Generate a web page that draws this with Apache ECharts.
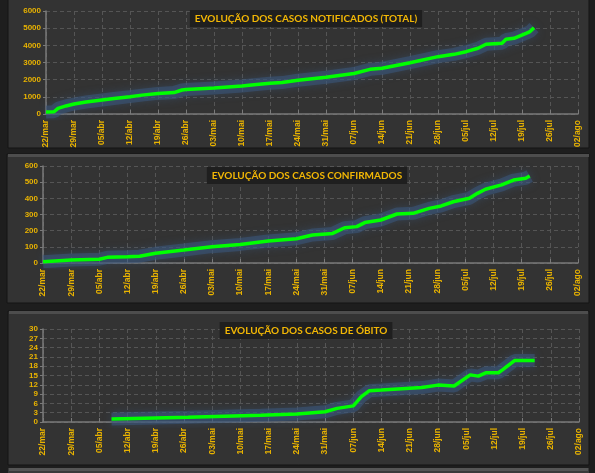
<!DOCTYPE html>
<html>
<head>
<meta charset="utf-8">
<script src="https://cdn.jsdelivr.net/npm/echarts@6/dist/echarts.min.js"></script>
<style>
  html, body { margin: 0; padding: 0; background: #1e1e1e; }
  #chart { width: 595px; height: 473px; }
</style>
</head>
<body>
<div id="chart"></div>
<script>
// casos notificados (total)
const datesTotal = ['22/mar', '24/mar', '25/mar', '27/mar', '29/mar', '01/abr', '05/abr', '08/abr', '12/abr', '15/abr',
  '19/abr', '23/abr', '25/abr', '26/abr', '03/mai', '10/mai', '13/mai', '17/mai', '20/mai', '24/mai',
  '31/mai', '07/jun', '11/jun', '14/jun', '21/jun', '28/jun', '02/jul', '05/jul', '08/jul', '10/jul',
  '14/jul', '15/jul', '17/jul', '20/jul', '21/jul', '22/jul']
const valuesTotal = [120, 130, 330, 470, 580, 700, 815, 900, 1010, 1100,
  1200, 1250, 1400, 1430, 1520, 1630, 1700, 1790, 1830, 1970,
  2140, 2360, 2600, 2660, 2990, 3340, 3475, 3630, 3830, 4060,
  4120, 4350, 4410, 4700, 4800, 5030]

// casos confirmados
const datesConf = ['22/mar', '29/mar', '05/abr', '07/abr', '12/abr', '15/abr', '19/abr', '26/abr', '03/mai', '10/mai',
  '17/mai', '24/mai', '28/mai', '02/jun', '05/jun', '08/jun', '10/jun', '14/jun', '18/jun', '22/jun',
  '26/jun', '29/jun', '02/jul', '06/jul', '08/jul', '10/jul', '14/jul', '17/jul', '20/jul', '21/jul']
const valuesConf = [8, 18, 23, 35, 39, 42, 60, 80, 101, 115,
  136, 150, 173, 183, 218, 225, 250, 266, 303, 307,
  338, 353, 379, 400, 431, 456, 483, 513, 524, 538]

// casos de obito
const datesObito = ['08/abr', '27/abr', '15/mai', '24/mai', '31/mai', '03/jun', '07/jun', '09/jun', '11/jun', '14/jun',
  '24/jun', '28/jun', '02/jul', '03/jul', '06/jul', '08/jul', '10/jul', '13/jul', '14/jul', '17/jul', '22/jul']
const valuesObito = [1, 1.5, 2.2, 2.6, 3.3, 4.4, 5.2, 8.2, 10.1, 10.3,
  11.1, 11.9, 11.6, 12.5, 15.2, 14.8, 15.9, 15.9, 16.8, 19.8, 19.8]

const titles = ['EVOLUÇÃO DOS CASOS NOTIFICADOS (TOTAL)', 'EVOLUÇÃO DOS CASOS CONFIRMADOS', 'EVOLUÇÃO DOS CASOS DE ÓBITO']
const yMax = [6000, 600, 30]
const yStep = [1000, 100, 3]

const months = ['jan', 'fev', 'mar', 'abr', 'mai', 'jun', 'jul', 'ago', 'set', 'out', 'nov', 'dez']
const day0 = Date.UTC(2020, 2, 22)
const DAY = 86400000

// 'dd/mmm' -> dias desde 22/mar
function toDay(s) {
  let p = s.split('/')
  return Math.round((Date.UTC(2020, months.indexOf(p[1]), +p[0]) - day0) / DAY)
}
function toLabel(d) {
  let dt = new Date(day0 + d * DAY)
  let dd = String(dt.getUTCDate()).padStart(2, '0')
  return dd + '/' + months[dt.getUTCMonth()]
}

const yellow = '#e9b300'
const grids = [
  { left: 46, right: 17, top: 11, height: 103 },
  { left: 43, right: 17, top: 166, height: 97 },
  { left: 43, right: 16, top: 329, height: 93 }
]
const titlePos = [{ x: 301, y: 10 }, { x: 302, y: 167 }, { x: 301, y: 322 }]
const seriesData = [
  datesTotal.map((d, i) => [toDay(d), valuesTotal[i]]),
  datesConf.map((d, i) => [toDay(d), valuesConf[i]]),
  datesObito.map((d, i) => [toDay(d), valuesObito[i]])
]

// halo azulado por baixo + linha verde por cima
let series = []
seriesData.forEach((d, i) => {
  series.push({
    type: 'line', xAxisIndex: i, yAxisIndex: i, data: d, symbol: 'none', silent: true, z: 1,
    lineStyle: { color: 'rgba(58,88,125,0.55)', width: 13, shadowColor: 'rgba(58,88,125,0.7)', shadowBlur: 8 }
  })
  series.push({
    type: 'line', xAxisIndex: i, yAxisIndex: i, data: d, symbol: 'none', z: 3,
    lineStyle: { color: '#00ff00', width: 3.5 }
  })
})

let chart = echarts.init(document.getElementById('chart'))
let option = {
  backgroundColor: '#1e1e1e',
  animation: false,
  graphic: [
    { type: 'rect', z: -100, shape: { x: 8, y: -4, width: 581, height: 152 }, style: { fill: '#333333', stroke: '#141414', lineWidth: 1 } },
    { type: 'rect', z: -100, shape: { x: 7, y: 154, width: 582, height: 149 }, style: { fill: '#333333', stroke: '#141414', lineWidth: 1 } },
    { type: 'rect', z: -99, shape: { x: 8, y: 154, width: 581, height: 3 }, style: { fill: '#4d4d4d' } },
    { type: 'rect', z: -100, shape: { x: 8, y: 311, width: 581, height: 154 }, style: { fill: '#333333', stroke: '#141414', lineWidth: 1 } },
    { type: 'rect', z: -99, shape: { x: 9, y: 311, width: 579, height: 3 }, style: { fill: '#4d4d4d' } },
    { type: 'rect', z: -100, shape: { x: 8, y: 468, width: 581, height: 10 }, style: { fill: '#3a3a3a' } },
    { type: 'rect', z: -99, shape: { x: 9, y: 468, width: 579, height: 3 }, style: { fill: '#555555' } }
  ],
  title: titles.map((t, i) => ({
    text: t,
    left: titlePos[i].x,
    top: titlePos[i].y,
    textAlign: 'center',
    backgroundColor: '#1f1f1f',
    padding: [4, 5, 3, 5],
    textStyle: { color: '#f2b705', fontFamily: 'Lato', fontWeight: 'bold', fontSize: 10 }
  })),
  grid: grids,
  xAxis: grids.map((g, i) => ({
    type: 'value',
    gridIndex: i,
    min: 0,
    max: 133,
    interval: 7,
    axisLine: { lineStyle: { color: '#7a7a7a', width: 1.5 } },
    axisTick: { inside: true, length: 4, lineStyle: { color: '#7a7a7a' } },
    splitLine: { show: true, lineStyle: { color: '#555555', type: [4, 3] } },
    axisLabel: {
      rotate: 90,
      margin: 6,
      color: yellow,
      fontFamily: 'Liberation Sans',
      fontWeight: 'bold',
      fontSize: 8.5,
      formatter: toLabel
    }
  })),
  yAxis: grids.map((g, i) => ({
    type: 'value',
    gridIndex: i,
    min: 0,
    max: yMax[i],
    interval: yStep[i],
    axisLine: { show: true, lineStyle: { color: '#7a7a7a', width: 1.5 } },
    axisTick: { show: true, length: 3, lineStyle: { color: '#7a7a7a' } },
    splitLine: { show: true, lineStyle: { color: '#555555', type: [4, 3] } },
    axisLabel: {
      margin: 5,
      color: yellow,
      fontFamily: 'Liberation Sans',
      fontWeight: 'bold',
      fontSize: 8,
      formatter: v => String(v)
    }
  })),
  series: series
}
chart.setOption(option)
</script>
</body>
</html>
